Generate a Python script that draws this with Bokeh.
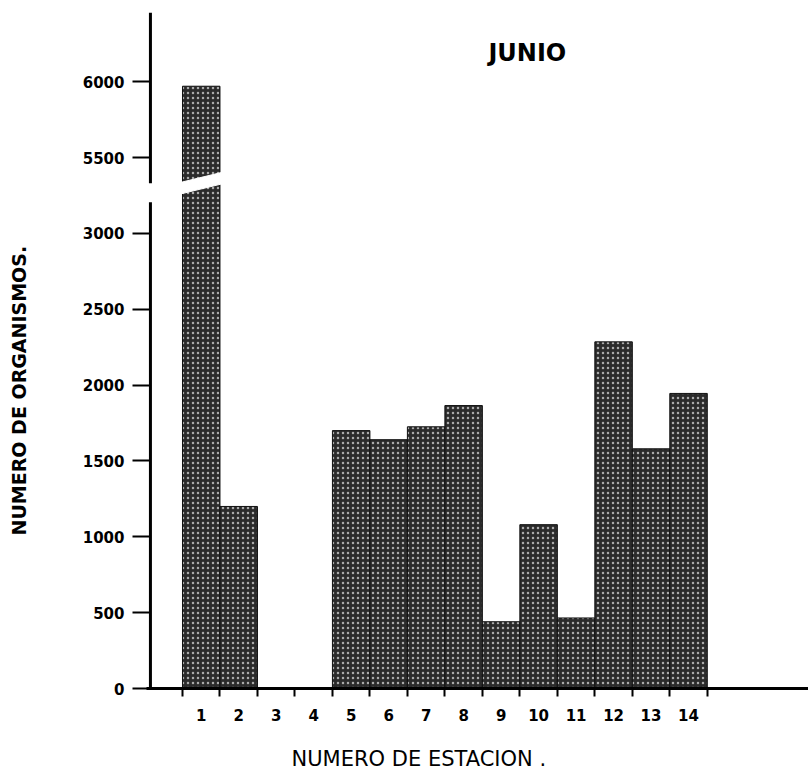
from bokeh.embed import file_html
from bokeh.models import ColumnDataSource, FixedTicker, Label, LinearAxis, Range1d, Title
from bokeh.plotting import figure
from bokeh.resources import INLINE

# Organism counts per sampling station, June
stations = list(range(1, 15))
counts = [5970, 1200, 0, 0, 1700, 1640, 1725, 1865, 440, 1080, 465, 2285, 1580, 1945]

# Broken value axis: everything above the break is shifted down by this amount
break_low = 3000
break_shift = 2000

y_tick_values = [0, 500, 1000, 1500, 2000, 2500, 3000, 5500, 6000]
y_tick_labels = ["0", "500", "1000", "1500", "2000", "2500", "3000", "5500", "6000"]


def to_axis(v):
    return v - break_shift if v > break_low else v


tops = [to_axis(v) for v in counts]
source = ColumnDataSource(dict(x=stations, top=tops))

p = figure(
    width=808, height=775,
    x_range=Range1d(-0.46, 17.2), y_range=Range1d(0, 4456),
    output_backend="svg", toolbar_location=None,
    min_border_left=146, min_border_right=0,
    min_border_top=12, min_border_bottom=87,
)
p.outline_line_color = None
p.xgrid.visible = False
p.ygrid.visible = False
p.background_fill_color = "white"
p.border_fill_color = "white"

p.vbar(
    x="x", top="top", bottom=0, width=1.0, source=source,
    fill_color="#2b2b2b", line_color="#111111", line_width=1,
    hatch_pattern="dot", hatch_color="#f0f0f0", hatch_alpha=0.65,
    hatch_scale=5, hatch_weight=1.3,
)

# White slash through the tall first bar marking the axis break
p.patch(
    x=[0.3, 1.7, 1.7, 0.3],
    y=[3251, 3335, 3411, 3327],
    fill_color="white", line_color="white",
)

# Hand-drawn value axis line with a gap at the break
axis_x = -0.355
p.segment(x0=[axis_x, axis_x], y0=[0, 3330], x1=[axis_x, axis_x], y1=[3205, 4456],
          line_color="black", line_width=3)

# Value axis ticks and labels
yax = p.yaxis[0]
yax.ticker = FixedTicker(ticks=[to_axis(v) for v in y_tick_values], minor_ticks=[])
yax.major_label_overrides = {to_axis(v): s for v, s in zip(y_tick_values, y_tick_labels)}
yax.axis_line_color = None
yax.major_tick_out = 14
yax.major_tick_in = 4
yax.major_tick_line_width = 2
yax.major_label_standoff = 8
yax.major_label_text_font = "DejaVu Sans"
yax.major_label_text_font_style = "bold"
yax.major_label_text_font_size = "15px"
yax.major_label_text_color = "black"

# Station axis: labels under bar centres, ticks at bar edges
xax = p.xaxis[0]
xax.ticker = FixedTicker(ticks=stations, minor_ticks=[s - 0.5 for s in stations] + [14.5])
xax.major_label_overrides = {s: str(s) for s in stations}
xax.axis_line_width = 3
xax.axis_line_color = "black"
xax.major_tick_out = 0
xax.major_tick_in = 0
xax.minor_tick_out = 8
xax.minor_tick_in = 0
xax.minor_tick_line_width = 2
xax.minor_tick_line_color = "black"
xax.major_label_standoff = 12
xax.major_label_text_font = "DejaVu Sans"
xax.major_label_text_font_style = "bold"
xax.major_label_text_font_size = "15px"
xax.major_label_text_color = "black"


def spacer_axis(size, tick):
    # Blank axis whose only job is to push the axis title away from the tick labels
    return LinearAxis(
        ticker=FixedTicker(ticks=[tick], minor_ticks=[]),
        major_label_overrides={tick: ""},
        major_label_text_font_size="1px", major_label_standoff=0,
        axis_line_color=None, major_tick_line_color=None, minor_tick_line_color=None,
        major_tick_out=size, major_tick_in=0, minor_tick_out=0, minor_tick_in=0,
    )


p.add_layout(spacer_axis(21, 8), "below")
p.add_layout(spacer_axis(50, 1000), "left")

p.add_layout(Title(
    text="NUMERO DE ESTACION .", align="left", offset=145, standoff=0,
    text_font="DejaVu Sans", text_font_style="normal", text_font_size="21px",
    text_color="black",
), "below")
p.add_layout(Title(
    text="NUMERO DE ORGANISMOS.", align="left", offset=153, standoff=0,
    text_font="DejaVu Sans", text_font_style="bold", text_font_size="19px",
    text_color="black",
), "left")

p.add_layout(Label(
    x=9.70, y=4186, text="JUNIO", text_align="center", text_baseline="middle",
    text_font="DejaVu Sans", text_font_style="bold", text_font_size="24px",
    text_color="black",
))

open("out.html", "w").write(file_html(p, INLINE))
